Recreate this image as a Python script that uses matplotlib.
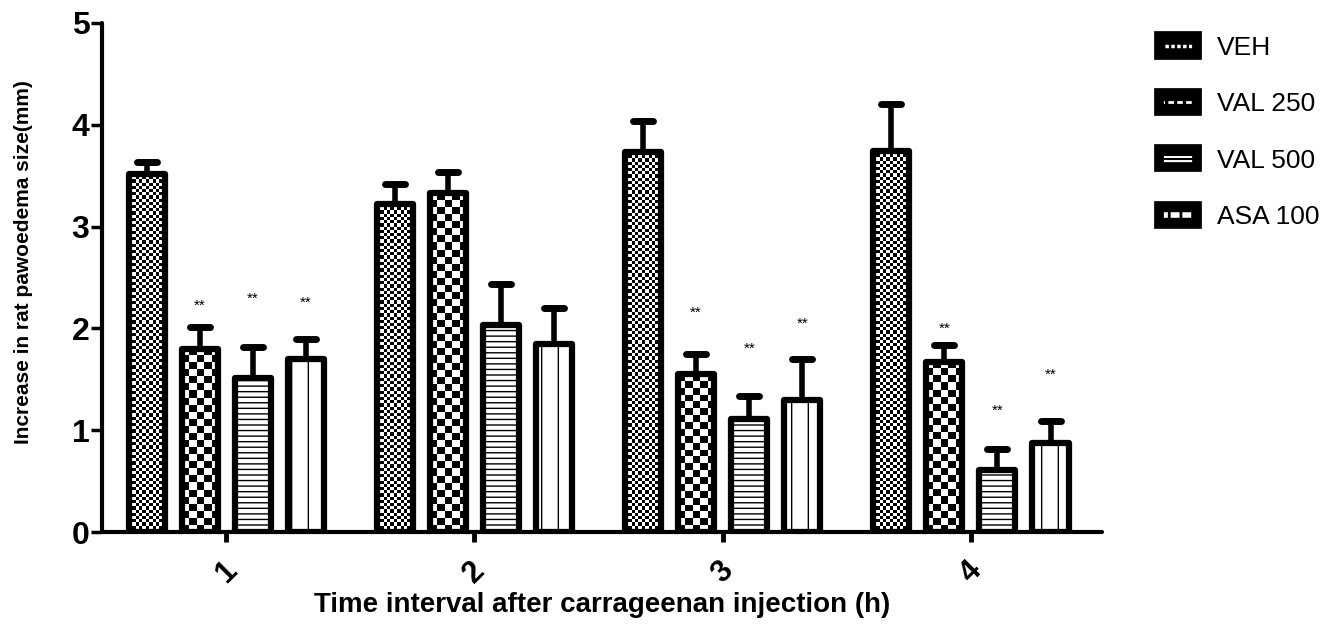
import numpy as np
import matplotlib
matplotlib.use('Agg')
from matplotlib import pyplot as plt
from matplotlib.markers import MarkerStyle
from matplotlib.patches import Patch
from matplotlib.lines import Line2D
from matplotlib.legend_handler import HandlerTuple

# data (mean and upper SEM)
hours = [1, 2, 3, 4]
hour_labels = ['1', '2', '3', '4']
names = ['VEH', 'VAL 250', 'VAL 500', 'ASA 100']
veh = [3.52, 3.22, 3.73, 3.74]
veh_err = [0.11, 0.20, 0.31, 0.46]
val250 = [1.80, 3.33, 1.55, 1.67]
val250_err = [0.21, 0.21, 0.20, 0.17]
val500 = [1.51, 2.03, 1.11, 0.61]
val500_err = [0.31, 0.41, 0.23, 0.21]
asa100 = [1.70, 1.85, 1.30, 0.87]
asa100_err = [0.20, 0.35, 0.40, 0.22]
# height of the ** marks (None = not significant)
stars250 = [2.22, None, 2.15, 2.00]
stars500 = [2.29, None, 1.80, 1.19]
stars_asa = [2.25, None, 2.05, 1.54]

means = [veh, val250, val500, asa100]
errs = [veh_err, val250_err, val500_err, asa100_err]
stars = [None, stars250, stars500, stars_asa]
fills = ['checker_small', 'checker_big', '---', '|']
cell_px = {'checker_small': 3.2, 'checker_big': 7.0}

plt.rcParams['font.family'] = ['Liberation Sans', 'DejaVu Sans']
plt.rcParams['hatch.linewidth'] = 1.0

fig = plt.figure(figsize=(13.33, 6.26), dpi=100)
ax = fig.add_axes([102 / 1333, 94 / 626, (1102 - 102) / 1333, (532 - 23) / 626])
xlim = (0.5, 4.528)
ax.set_xlim(*xlim)
ax.set_ylim(0, 5)

x = np.array(hours, dtype=float)
step = 53 / 248
width = 36 / 248
lw = 4.5

for i, (m, e, fill) in enumerate(zip(means, errs, fills)):
    xi = x + (i - 1.5) * step
    if fill.startswith('checker'):
        bars = ax.bar(xi, m, width, facecolor='none', edgecolor='black', linewidth=lw, zorder=3)
        for b in bars:
            x0, y0 = b.get_x(), b.get_y()
            x1, y1 = x0 + b.get_width(), y0 + b.get_height()
            p0 = ax.transData.transform((x0, y0))
            p1 = ax.transData.transform((x1, y1))
            nx = max(1, int(round(abs(p1[0] - p0[0]) / cell_px[fill])))
            ny = max(1, int(round(abs(p1[1] - p0[1]) / cell_px[fill])))
            grid = (np.add.outer(np.arange(ny), np.arange(nx)) % 2).astype(float)
            im = ax.imshow(grid, cmap='gray', extent=(x0, x1, y0, y1), origin='lower',
                           interpolation='nearest', aspect='auto', zorder=2)
            im.set_clip_path(b)
    else:
        bars = ax.bar(xi, m, width, facecolor='white', edgecolor='black', linewidth=lw,
                      hatch=fill, zorder=3)
    for b in bars:
        b.set_joinstyle('round')
    # error bars: only the upper half, with rounded caps
    ax.errorbar(xi, m, yerr=[np.zeros(len(m)), e], fmt='none', ecolor='black',
                elinewidth=4, capsize=0, zorder=2.5)
    tops = np.array(m) + np.array(e)
    ax.plot(xi, tops, linestyle='none', color='black',
            marker=MarkerStyle('_', capstyle='round'), markersize=14, markeredgewidth=5,
            zorder=4)
    if stars[i] is not None:
        for xs, ys in zip(xi, stars[i]):
            if ys is not None:
                ax.text(xs, ys, '**', ha='center', va='center', fontsize=11, color='black')

ax.set_xlim(*xlim)
ax.set_ylim(0, 5)

for s in ['top', 'right']:
    ax.spines[s].set_visible(False)
for s in ['left', 'bottom']:
    ax.spines[s].set_linewidth(3)
    ax.spines[s].set_capstyle('round')

ax.set_yticks([0, 1, 2, 3, 4, 5])
ax.set_yticklabels(['0', '1', '2', '3', '4', '5'], fontsize=23, fontweight='bold')
ax.tick_params(axis='y', length=8, width=2.5, pad=1)
ax.set_xticks(hours)
ax.set_xticklabels(hour_labels, fontsize=22, fontweight='bold', rotation=45)
ax.tick_params(axis='x', length=7, width=3.5, pad=10)

ax.set_ylabel('Increase in rat pawoedema size(mm)', fontsize=15, fontweight='bold')
ax.yaxis.set_label_coords(-0.069, 0.53)
ax.set_xlabel('Time interval after carrageenan injection (h)', fontsize=20,
              fontweight='bold', labelpad=2)

# legend: black rounded boxes with a white pattern through the middle
def box():
    return Patch(facecolor='black', edgecolor='black', linewidth=3, joinstyle='round')

def rim():
    return Patch(facecolor='none', edgecolor='black', linewidth=7, joinstyle='round')

handles = [
    (box(), Line2D([], [], color='white', lw=2.5, linestyle=(0, (1, 0.7))), rim()),
    (box(), Line2D([], [], color='white', lw=2, linestyle=(0, (2, 1.2))), rim()),
    (box(), Line2D([], [], color='white', lw=5), Line2D([], [], color='black', lw=1.5), rim()),
    (box(), Line2D([], [], color='white', lw=4, linestyle=(0, (1.6, 0.5))), rim()),
]
fig.legend(handles, names, loc='upper left', bbox_to_anchor=(1135 / 1333, 1 - 12 / 626),
           frameon=False, fontsize=19, handlelength=1.45, handleheight=0.68,
           labelspacing=1.23, handletextpad=0.75,
           handler_map={tuple: HandlerTuple(ndivide=1, pad=0)})

fig.savefig('out.png', dpi=100)
